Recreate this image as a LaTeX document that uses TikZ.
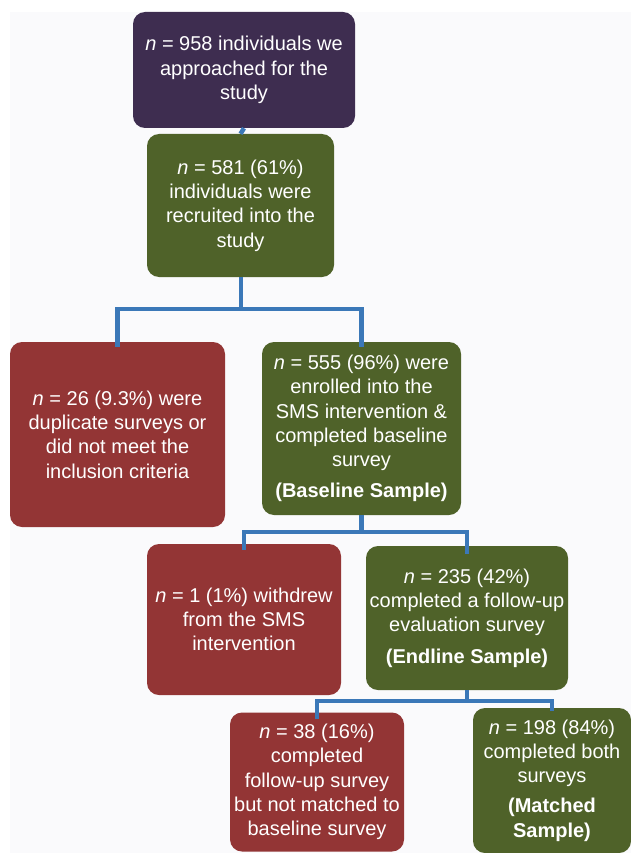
\documentclass[tikz,border=0pt]{standalone}
\usepackage{fontspec}
\setmainfont{Liberation Sans}
\definecolor{cpurple}{HTML}{3E2D50}
\definecolor{cgreen}{HTML}{4F6229}
\definecolor{cred}{HTML}{933535}
\definecolor{cblue}{HTML}{3B78B8}
\definecolor{cbg}{HTML}{FAFAFC}
\begin{document}
\begin{tikzpicture}[x=1pt,y=-1pt,
  box/.style={rectangle,rounded corners=12pt,text=white,align=center,inner sep=0pt,
    font=\fontsize{20}{24.3}\selectfont},
  pbox/.style={box,fill=cpurple},
  gbox/.style={box,fill=cgreen},
  rbox/.style={box,fill=cred},
  conn/.style={draw=cblue,line width=4.5pt}]
\useasboundingbox (0,0) rectangle (631,853);
\fill[cbg] (10,12) rectangle (631,853);
% boxes
\node[pbox,minimum width=222pt,minimum height=116pt] (b1) at (244,70)
  {\textit{n} = 958 individuals we\\approached for the\\study};
\node[gbox,minimum width=187pt,minimum height=143pt] (b2) at (240.5,205.5)
  {\textit{n} = 581 (61\%)\\individuals were\\recruited into the\\study};
\node[rbox,minimum width=215pt,minimum height=185pt] (b3) at (117.5,434.5)
  {\textit{n} = 26 (9.3\%) were\\duplicate surveys or\\did not meet the\\inclusion criteria};
\node[gbox,minimum width=199pt,minimum height=173pt] (b4) at (361.5,428.5)
  {\textit{n} = 555 (96\%) were\\enrolled into the\\SMS intervention \&\\completed baseline\\survey\\[7pt]\textbf{(Baseline Sample)}};
\node[rbox,minimum width=194pt,minimum height=151pt] (b5) at (244,619.5)
  {\textit{n} = 1 (1\%) withdrew\\from the SMS\\intervention};
\node[gbox,minimum width=202pt,minimum height=144pt] (b6) at (467,618)
  {\textit{n} = 235 (42\%)\\completed a follow-up\\evaluation survey\\[7pt]\textbf{(Endline Sample)}};
\node[rbox,minimum width=174pt,minimum height=139pt] (b7) at (317,782)
  {\textit{n} = 38 (16\%)\\completed\\follow-up survey\\but not matched to\\baseline survey};
\node[gbox,minimum width=158pt,minimum height=145pt] (b8) at (552,780.5)
  {\textit{n} = 198 (84\%)\\completed both\\surveys\\[6pt]\textbf{(Matched}\\\textbf{Sample)}};
% connectors
\coordinate (j1) at (241,309);
\coordinate (j2) at (361.5,532);
\coordinate (j3) at (467,701);
\draw[conn] (b1.south) -- (b2.north);
\draw[conn] (b2.south -| j1) -- (j1);
\draw[conn] ([yshift=-5pt]b3.north) |- (j1) -| ([yshift=-5pt]b4.north);
\draw[conn] (b4.south -| j2) -- (j2);
\draw[conn] ([yshift=-6pt]b5.north) |- (j2) -| ([yshift=-8pt]b6.north);
\draw[conn,line width=4pt] (b6.south) -- (j3);
\draw[conn,line width=4pt] ([yshift=-7pt]b7.north) |- (j3) -| ([yshift=-3pt]b8.north);
\end{tikzpicture}
\end{document}
